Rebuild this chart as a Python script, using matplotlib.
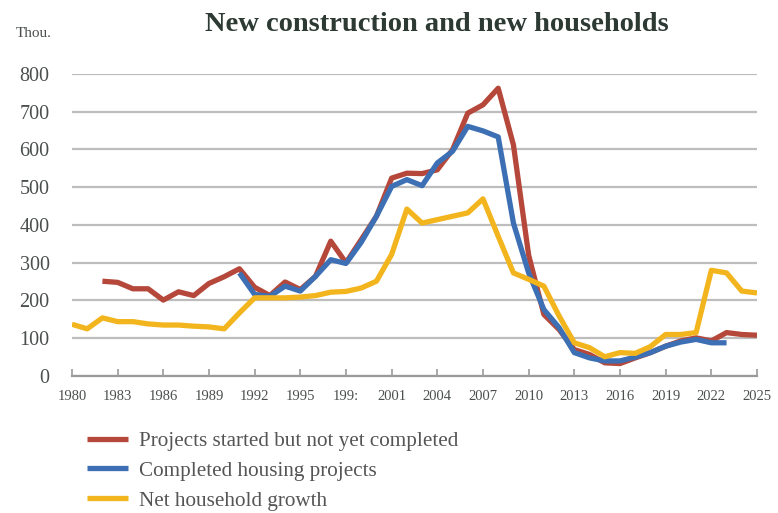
import matplotlib
matplotlib.use("Agg")
import matplotlib.pyplot as plt
import numpy as np

years_started = list(range(1982, 2026))
started = [251, 248, 231, 231, 201, 223, 213, 245, 263, 284, 235, 213, 249, 229, 264, 357, 300, 361, 423,
           524, 537, 536, 546, 599, 696, 718, 762, 612, 320, 163, 123, 70, 57, 35, 33, 48, 62, 79, 93, 101,
           93, 115, 110, 108]

years_completed = list(range(1991, 2024))
completed = [273, 216, 211, 238, 225, 264, 308, 298, 354, 423,
             502, 520, 504, 564, 595, 661, 649, 633, 405, 273, 176, 128, 62, 48, 40, 40, 50, 62, 79, 90, 97,
             88, 88]

years_households = list(range(1980, 2026))
households = [137, 125, 154, 144, 144, 138, 135, 135, 132, 130, 125, 167, 207, 207, 207, 209, 213, 222, 224,
              233, 251, 322, 442, 405, 414, 423, 432, 469, 370, 273, 256, 238, 159, 88, 75, 51, 62, 60, 78,
              110, 110, 115, 280, 273, 225, 220]

xtick_years = list(range(1980, 2026, 3))
xtick_labels = [str(y) for y in xtick_years]
xtick_labels[6] = "199:"
yticks = list(range(0, 801, 100))

series_names = ["Projects started but not yet completed", "Completed housing projects", "Net household growth"]
colors = ["#b5483a", "#3c6fb4", "#f3b51d"]

SERIF = "Liberation Serif"
TEXT = "#4a4f4c"

fig = plt.figure(figsize=(7.78, 5.13), dpi=100)
ax = fig.add_axes([0.0925, 0.267, 0.8805, 0.589])

lw = 3.8
ax.plot(years_started, started, color=colors[0], lw=lw, solid_capstyle="butt", label=series_names[0], zorder=3)
ax.plot(years_completed, completed, color=colors[1], lw=lw, solid_capstyle="butt", label=series_names[1], zorder=4)
ax.plot(years_households, households, color=colors[2], lw=lw, solid_capstyle="butt", label=series_names[2], zorder=5)

ax.set_xlim(1980, 2025)
ax.set_ylim(0, 800)
ax.set_yticks(yticks)
ax.set_yticklabels([str(v) for v in yticks], family=SERIF, fontsize=14.5, color=TEXT)
ax.set_xticks(xtick_years)
ax.set_xticklabels(xtick_labels, family=SERIF, fontsize=10.5, color=TEXT)

ax.grid(axis="y", color="#bdbdbd", lw=1.6)
ax.set_axisbelow(True)
for s in ["top", "right", "left"]:
    ax.spines[s].set_visible(False)
ax.spines["bottom"].set_color("#9a9a9a")
ax.spines["bottom"].set_linewidth(1.6)
ax.tick_params(axis="y", length=0, pad=16)
ax.tick_params(axis="x", direction="in", length=5, color="#9a9a9a", width=1.2, pad=10)

fig.text(0.562, 0.952, "New construction and new households", ha="center", va="center",
         family=SERIF, fontweight="bold", fontsize=20.5, color="#2d3a33")
fig.text(0.02, 0.935, "Thou.", ha="left", va="center", family=SERIF, fontsize=11, color=TEXT)

leg = fig.legend(loc="upper left", bbox_to_anchor=(0.101, 0.176), frameon=False,
                 prop={"family": SERIF, "size": 15.2}, handlelength=1.95, handletextpad=0.5,
                 labelspacing=0.48, borderaxespad=0)
for t in leg.get_texts():
    t.set_color("#555555")

fig.savefig("out.png", dpi=100)
